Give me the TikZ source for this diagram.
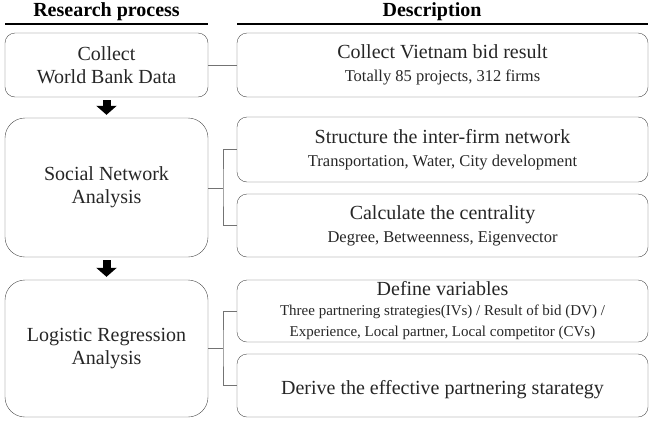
\documentclass[tikz,border=0pt]{standalone}
\usepackage{fontspec}
\setmainfont{Liberation Serif}
\usetikzlibrary{arrows.meta}

\newcommand{\subtxt}[1]{{\fontsize{16.5}{19}\selectfont #1}}
\newcommand{\smalltxt}[1]{{\fontsize{15}{16}\selectfont #1}}

\begin{document}
\begin{tikzpicture}[x=1pt,y=-1pt,
    procbox/.style={draw=black!70,rounded corners=10pt,minimum width=203pt,inner sep=0pt,align=center,text=black!85,font=\fontsize{20}{23}\selectfont,execute at begin node={\rule{0pt}{1.1em}}},
    descbox/.style={draw=black!70,rounded corners=10pt,minimum width=411pt,inner sep=0pt,align=center,text=black!85,font=\fontsize{20}{23}\selectfont,execute at begin node={\rule{0pt}{1.1em}}},
    headtxt/.style={font=\fontsize{20}{24}\selectfont\bfseries},
    link/.style={draw=black!55,line width=0.9pt},
    flow/.style={line width=8pt,-{Triangle[width=20pt,length=9pt]},shorten <=3pt,shorten >=3pt}]
    \useasboundingbox (0,0) rectangle (655,426);

    % Headers
    \node[headtxt] (hproc) at (106.5,11.5) {Research process};
    \node[headtxt] (hdesc) at (432,11.5) {Description};
    \draw[line width=1.8pt] (5,24) -- (208,24);
    \draw[line width=1.8pt] (237,24) -- (648,24);

    % Research process
    \node[procbox,minimum height=64pt] (collect) at (106.5,65) {Collect\\World Bank Data};
    \node[procbox,minimum height=139pt,rounded corners=20pt] (sna) at (106.5,187.5) {Social Network\\Analysis};
    \node[procbox,minimum height=137pt,rounded corners=20pt] (lra) at (106.5,348.5) {Logistic Regression\\Analysis};

    % Description
    \node[descbox,minimum height=64pt] (bid) at (442.5,65) {Collect Vietnam bid result\\\subtxt{Totally 85 projects, 312 firms}};
    \node[descbox,minimum height=65pt] (net) at (442.5,149.5) {Structure the inter-firm network\\\subtxt{Transportation, Water, City development}};
    \node[descbox,minimum height=63pt] (cent) at (442.5,225.5) {Calculate the centrality\\\subtxt{Degree, Betweenness, Eigenvector}};
    \node[descbox,minimum height=62pt,execute at begin node={}] (vars) at (442.5,311) {Define variables\\[-3pt]\smalltxt{Three partnering strategies(IVs) / Result of bid (DV) /}\\[-2pt]\smalltxt{Experience, Local partner, Local competitor (CVs)}};
    \node[descbox,minimum height=63pt] (strat) at (442.5,385.5) {Derive the effective partnering starategy};

    % Flow arrows
    \draw[flow] (collect.south) -- (sna.north);
    \draw[flow] (sna.south) -- (lra.north);

    % Links to description
    \draw[link] (collect.east) -- (bid.west);
    \coordinate (j1) at (223,188);
    \draw[link] (sna.east |- j1) -- (j1);
    \draw[link] (net.west) -| (j1) |- (cent.west);
    \coordinate (j2) at (223,348);
    \draw[link] (lra.east |- j2) -- (j2);
    \draw[link] (vars.west) -| (j2) |- (strat.west);
\end{tikzpicture}
\end{document}
